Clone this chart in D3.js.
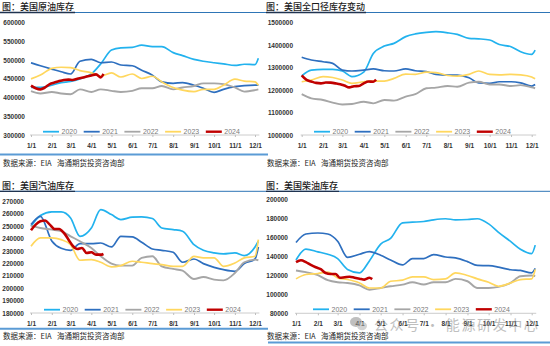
<!DOCTYPE html>
<html>
<head>
<meta charset="utf-8">
<script src="https://cdn.jsdelivr.net/npm/d3@7"></script>
<style>
  body { margin: 0; background: #fff; }
  svg { display: block; font-family: "Liberation Sans", Arial, sans-serif; }
  .cjk { font-family: "Noto Sans CJK SC", "Noto Sans", sans-serif; }
</style>
</head>
<body>
<div class="chart-container"></div>
<script>
// Data (weekly EIA stocks, thousand barrels)
const dates = ["1/1", "1/15", "2/1", "2/15", "3/1", "3/15", "4/1", "4/15", "5/1", "5/15", "6/1", "6/15",
  "7/1", "7/15", "8/1", "8/15", "9/1", "9/15", "10/1", "10/15", "11/1", "11/15", "12/1", "12/6"];
const dates2024 = ["1/1", "1/8", "1/15", "1/22", "1/29", "2/5", "2/12", "2/19", "2/26", "3/4", "3/11",
  "3/18", "3/25", "4/1", "4/8", "4/15", "4/19"];
const years = ["2020", "2021", "2022", "2023", "2024"];
const monthLabels = ["1/1", "2/1", "3/1", "4/1", "5/1", "6/1", "7/1", "8/1", "9/1", "10/1", "11/1", "12/1"];

// 美国原油库存
const crude2020 = [427000, 427000, 433000, 440000, 443000, 450000, 463000, 490000, 527000, 533000, 534000, 540000,
  536000, 536000, 520000, 512000, 502000, 497000, 493000, 490000, 486000, 489000, 488000, 505000];
const crude2021 = [493000, 485000, 476000, 469000, 463000, 497000, 502000, 493000, 495000, 487000, 485000, 473000,
  460000, 442000, 438000, 440000, 433000, 425000, 414000, 422000, 429000, 432000, 433000, 433000];
const crude2022 = [417000, 411000, 415000, 411000, 409000, 422000, 415000, 422000, 418000, 415000, 418000, 425000,
  425000, 431000, 422000, 427000, 431000, 438000, 438000, 436000, 427000, 416000, 420000, 422000];
const crude2023 = [450000, 460000, 478000, 481000, 480000, 472000, 466000, 457000, 466000, 455000, 463000, 451000,
  457000, 442000, 427000, 420000, 416000, 422000, 422000, 433000, 449000, 444000, 442000, 433000];
const crude2024 = [432000, 425000, 422000, 427000, 436000, 440000, 444000, 447000, 448000, 447000, 450000,
  453000, 456000, 459000, 462000, 454000, 463000];

// 美国全口径库存变动
const total2020 = [1263000, 1289000, 1292000, 1292000, 1285000, 1260000, 1280000, 1363000, 1396000, 1408000, 1438000, 1450000,
  1457000, 1460000, 1455000, 1448000, 1430000, 1428000, 1423000, 1403000, 1393000, 1371000, 1359000, 1378000];
const total2021 = [1346000, 1334000, 1326000, 1319000, 1289000, 1285000, 1289000, 1294000, 1286000, 1285000, 1294000, 1286000,
  1282000, 1270000, 1267000, 1267000, 1255000, 1232000, 1230000, 1237000, 1237000, 1232000, 1218000, 1225000];
const total2022 = [1182000, 1163000, 1156000, 1144000, 1136000, 1138000, 1148000, 1141000, 1156000, 1153000, 1171000, 1182000,
  1208000, 1211000, 1218000, 1215000, 1233000, 1237000, 1225000, 1225000, 1218000, 1222000, 1212000, 1208000];
const total2023 = [1237000, 1245000, 1260000, 1256000, 1245000, 1230000, 1237000, 1240000, 1240000, 1252000, 1271000, 1270000,
  1280000, 1278000, 1265000, 1262000, 1270000, 1285000, 1270000, 1268000, 1270000, 1268000, 1258000, 1250000];
const total2024 = [1265000, 1245000, 1238000, 1232000, 1230000, 1234000, 1233000, 1230000, 1226000, 1220000, 1212000,
  1217000, 1218000, 1230000, 1238000, 1237000, 1246000];

// 美国汽油库存
const gas2020 = [249900, 258500, 261500, 261500, 256600, 241800, 248500, 263300, 259300, 255300, 257200, 257400,
  256100, 248500, 247200, 245900, 235100, 230500, 228400, 227600, 228400, 226200, 233200, 237800];
const gas2021 = [251200, 257900, 238000, 232100, 230500, 235900, 235900, 236400, 233200, 241800, 241300, 237000,
  231600, 230500, 228900, 220900, 223500, 219800, 216800, 214900, 213600, 219800, 223500, 233200];
const gas2022 = [250400, 248500, 247200, 245900, 241800, 237800, 232400, 225700, 219800, 218200, 218200, 224400,
  225700, 217600, 215500, 214100, 207400, 209000, 206900, 206300, 212200, 220900, 223000, 222500];
const gas2023 = [233800, 240500, 240500, 239100, 235100, 222500, 223000, 220900, 217100, 218200, 221700, 220900,
  219800, 219000, 217600, 217600, 225700, 224400, 224400, 217600, 220300, 224400, 225700, 239100];
const gas2024 = [246700, 251200, 253900, 254500, 251200, 247700, 247700, 244500, 239100, 234300, 231600,
  232400, 228400, 228900, 227000, 227000, 227600];

// 美国柴油库存
const dist2020 = [136200, 147600, 144800, 142300, 137700, 126300, 122700, 135200, 153000, 159000, 175400, 176100,
  176800, 178600, 179700, 178600, 178900, 179700, 174300, 165400, 155800, 147600, 143000, 151900];
const dist2021 = [154700, 163600, 164700, 163600, 156000, 139000, 142300, 145000, 141200, 136200, 131000, 137700,
  137700, 141900, 139400, 138400, 134500, 130500, 130200, 128700, 125900, 125200, 122700, 127300];
const dist2022 = [125200, 123400, 120200, 114900, 112700, 112000, 109500, 104900, 106700, 108500, 110300, 112700,
  110300, 112700, 112700, 116300, 113800, 106700, 106700, 107800, 112000, 119100, 119900, 119100];
const dist2023 = [116300, 120900, 122000, 123400, 117400, 115600, 112000, 106700, 106700, 113800, 114900, 118400,
  118400, 115600, 116300, 122700, 119900, 116300, 112700, 108500, 112000, 115600, 116300, 126300];
const dist2024 = [134000, 136000, 134000, 131000, 128500, 126500, 122500, 121500, 121500, 117500, 118000,
  118500, 117500, 116500, 115500, 117500, 116000];

(function() {
  ////////////////////////////////////////////////////////////
  //// Setup /////////////////////////////////////////////////
  ////////////////////////////////////////////////////////////
  const chartWidth = 550;
  const chartHeight = 346;
  const colors = ["#22b2ee", "#2e6fbf", "#a6a6a6", "#ffd75e", "#c00000"];
  const widths = [1.7, 1.7, 1.9, 1.7, 2.6];
  const sourceText = ["数据来源：EIA", "海通期货投资咨询部"];

  const parseDate = s => {
    const [m, d] = s.split("/").map(Number);
    return new Date(2021, m - 1, d);
  };
  const firstDay = parseDate(monthLabels[0]);
  const lastTick = parseDate(monthLabels[monthLabels.length - 1]);

  const panels = [
    {
      title: "图：美国原油库存",
      series: [crude2020, crude2021, crude2022, crude2023, crude2024],
      yDomain: [300000, 600000], yStep: 50000,
      xRange: [31, 255], yRange: [135, 22.7], labelRight: 25,
      left: 2, titleY: 10, ruleY: 12.5, ruleX: [0, 266],
      legendX: 43, legendY: 131.7, sourceY: 166,
      bottomRule: { y: 154.5, x: [0, 268] }
    },
    {
      title: "图：美国全口径库存变动",
      series: [total2020, total2021, total2022, total2023, total2024],
      yDomain: [1000000, 1500000], yStep: 100000,
      xRange: [301.7, 531.7], yRange: [135, 22.7], labelRight: 293,
      left: 266, titleY: 10, ruleY: 12.5, ruleX: [266, 550],
      legendX: 314, legendY: 131.7, sourceY: 166,
      bottomRule: null
    },
    {
      title: "图：美国汽油库存",
      series: [gas2020, gas2021, gas2022, gas2023, gas2024],
      yDomain: [180000, 270000], yStep: 10000,
      xRange: [31, 255], yRange: [313, 201.3], labelRight: 24,
      left: 2, titleY: 189, ruleY: 191.3, ruleX: [0, 266],
      legendX: 44, legendY: 309.7, sourceY: 339,
      bottomRule: { y: 328.8, x: [0, 268] }
    },
    {
      title: "图：美国柴油库存",
      series: [dist2020, dist2021, dist2022, dist2023, dist2024],
      yDomain: [80000, 200000], yStep: 20000,
      xRange: [296, 531.7], yRange: [313.3, 199.5], labelRight: 288,
      left: 266, titleY: 189, ruleY: 191.3, ruleX: [266, 550],
      legendX: 313, legendY: 309.3, sourceY: 339,
      bottomRule: { y: 342.5, x: [268, 550] }
    }
  ];

  const svg = d3
    .select(".chart-container")
    .append("svg")
    .attr("width", chartWidth)
    .attr("height", chartHeight)
    .attr("viewBox", [0, 0, chartWidth, chartHeight]);

  svg.append("rect").attr("width", chartWidth).attr("height", chartHeight).attr("fill", "#fff");

  ////////////////////////////////////////////////////////////
  //// Panels ////////////////////////////////////////////////
  ////////////////////////////////////////////////////////////
  panels.forEach(p => {
    const g = svg.append("g");

    const xScale = d3.scaleTime().domain([firstDay, lastTick]).range(p.xRange);
    const yScale = d3.scaleLinear().domain(p.yDomain).range(p.yRange);

    // title + rule
    g.append("line")
      .attr("x1", p.ruleX[0]).attr("x2", p.ruleX[1])
      .attr("y1", p.ruleY).attr("y2", p.ruleY)
      .attr("stroke", "#2e75b6").attr("stroke-width", 1);
    const title = g.append("text")
      .attr("class", "cjk")
      .attr("x", p.left)
      .attr("y", p.titleY)
      .attr("font-size", 9)
      .attr("font-weight", 500)
      .attr("fill", "#1a1a1a")
      .text(p.title);
    const tw = title.node().getComputedTextLength();
    g.append("line")
      .attr("x1", p.ruleX[0]).attr("x2", p.left + tw + 1)
      .attr("y1", p.ruleY).attr("y2", p.ruleY)
      .attr("stroke", "#1f3350").attr("stroke-width", 1.3);

    // y axis labels
    g.append("g")
      .attr("transform", `translate(${p.labelRight},0)`)
      .call(
        d3.axisLeft(yScale)
          .tickValues(d3.range(p.yDomain[0], p.yDomain[1] + 1, p.yStep))
          .tickFormat(d3.format("d"))
          .tickSize(0)
          .tickPadding(0)
      )
      .call(g => g.select(".domain").remove())
      .call(g =>
        g.selectAll(".tick text")
          .attr("font-size", 6.5)
          .attr("font-weight", "bold")
          .attr("fill", "#333")
          .attr("font-family", "\"Liberation Sans\", Arial, sans-serif")
      );

    // x axis
    const yBase = yScale(p.yDomain[0]);
    g.append("g")
      .attr("transform", `translate(0,${yBase})`)
      .call(
        d3.axisBottom(xScale)
          .tickValues(monthLabels.map(parseDate))
          .tickFormat(d3.timeFormat("%-m/%-d"))
          .tickSize(2)
      )
      .call(g => g.select(".domain").remove())
      .call(g => g.selectAll(".tick line").attr("stroke", "#bfbfbf"))
      .call(g =>
        g.selectAll(".tick text")
          .attr("y", 8)
          .attr("font-size", 6.5)
          .attr("font-weight", "bold")
          .attr("fill", "#333")
          .attr("font-family", "\"Liberation Sans\", Arial, sans-serif")
      )
      .call(g =>
        g.append("line")
          .attr("x1", p.xRange[0] - 1)
          .attr("x2", xScale(parseDate(dates[dates.length - 1])) + 1)
          .attr("stroke", "#bfbfbf")
          .attr("stroke-width", 0.8)
      );

    // legend
    const legend = g.append("g")
      .attr("transform", `translate(${p.legendX},${p.legendY})`)
      .selectAll("g")
      .data(years)
      .join("g")
      .attr("transform", (d, i) => `translate(${i * 40.7},0)`);
    legend.append("line")
      .attr("x2", 16)
      .attr("stroke", (d, i) => colors[i])
      .attr("stroke-width", (d, i) => (i === 4 ? 2.4 : 1.8));
    legend.append("text")
      .attr("x", 18.5)
      .attr("dy", "0.35em")
      .attr("font-size", 7)
      .attr("fill", "#7a7a7a")
      .text(d => d);

    // series
    const line = labels =>
      d3.line()
        .x((d, i) => xScale(parseDate(labels[i])))
        .y(d => yScale(d))
        .curve(d3.curveMonotoneX);

    g.append("g")
      .selectAll("path")
      .data(p.series)
      .join("path")
      .attr("fill", "none")
      .attr("stroke", (d, i) => colors[i])
      .attr("stroke-width", (d, i) => widths[i])
      .attr("stroke-linejoin", "round")
      .attr("d", (d, i) => line(i === 4 ? dates2024 : dates)(d));

    // source
    g.append("text")
      .attr("class", "cjk")
      .attr("x", p.left + 1)
      .attr("y", p.sourceY)
      .attr("font-size", 7.5)
      .attr("fill", "#262626")
      .text(sourceText[0]);
    g.append("text")
      .attr("class", "cjk")
      .attr("x", p.left + 55)
      .attr("y", p.sourceY)
      .attr("font-size", 7.5)
      .attr("fill", "#262626")
      .text(sourceText[1]);

    if (p.bottomRule) {
      g.append("line")
        .attr("x1", p.bottomRule.x[0]).attr("x2", p.bottomRule.x[1])
        .attr("y1", p.bottomRule.y).attr("y2", p.bottomRule.y)
        .attr("stroke", "#5b9bd5").attr("stroke-width", 2);
    }
  });

  ////////////////////////////////////////////////////////////
  //// Watermark /////////////////////////////////////////////
  ////////////////////////////////////////////////////////////
  const wm = svg.append("g").attr("opacity", 0.55);
  wm.append("ellipse")
    .attr("cx", 356).attr("cy", 322).attr("rx", 6).attr("ry", 5)
    .attr("fill", "#8c8c8c");
  wm.append("ellipse")
    .attr("cx", 362).attr("cy", 326).attr("rx", 5).attr("ry", 4.2)
    .attr("fill", "#b0b0b0");
  wm.append("text")
    .attr("class", "cjk")
    .attr("x", 374)
    .attr("y", 330)
    .attr("font-size", 14)
    .attr("letter-spacing", 1.6)
    .attr("fill", "#8c8c8c")
    .text("公众号 · 能源研发中心");
})();
</script>
</body>
</html>
